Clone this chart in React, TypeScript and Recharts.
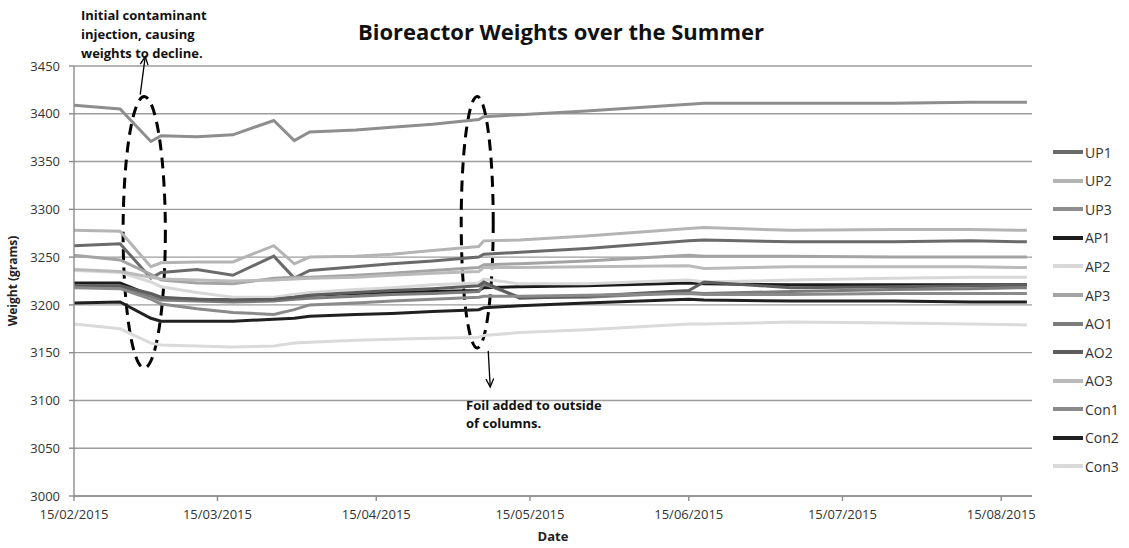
import React from 'react';
import { LineChart, Line, XAxis, YAxis, CartesianGrid, Legend, ReferenceArea } from 'recharts';

const DATES = [
  '2015-02-15', '2015-02-24', '2015-03-02', '2015-03-04', '2015-03-11', '2015-03-18',
  '2015-03-26', '2015-03-30', '2015-04-02', '2015-04-11', '2015-04-18', '2015-04-26',
  '2015-05-05', '2015-05-06', '2015-05-13', '2015-05-26', '2015-06-15', '2015-06-18',
  '2015-07-05', '2015-07-25', '2015-08-09', '2015-08-20',
];

const UP1 = [3262, 3264, 3228, 3234, 3237, 3231, 3251, 3228, 3236, 3240, 3243, 3246, 3250, 3253, 3255, 3259, 3267, 3268, 3266, 3266, 3267, 3266];
const UP2 = [3278, 3277, 3240, 3244, 3245, 3245, 3262, 3243, 3250, 3251, 3253, 3257, 3261, 3267, 3268, 3272, 3280, 3281, 3278, 3279, 3279, 3278];
const UP3 = [3409, 3405, 3371, 3377, 3376, 3378, 3393, 3372, 3381, 3383, 3386, 3389, 3394, 3397, 3399, 3403, 3410, 3411, 3411, 3411, 3412, 3412];
const AP1 = [3223, 3223, 3210, 3207, 3206, 3205, 3207, 3208, 3210, 3212, 3213, 3214, 3215, 3218, 3219, 3220, 3223, 3222, 3221, 3221, 3221, 3221];
const AP2 = [3236, 3234, 3224, 3219, 3213, 3208, 3208, 3211, 3213, 3216, 3218, 3221, 3223, 3227, 3222, 3222, 3226, 3224, 3226, 3228, 3229, 3229];
const AP3 = [3252, 3247, 3232, 3226, 3223, 3222, 3228, 3229, 3229, 3231, 3233, 3236, 3239, 3242, 3243, 3246, 3252, 3251, 3251, 3250, 3250, 3250];
const AO1 = [3219, 3218, 3209, 3205, 3204, 3203, 3204, 3206, 3207, 3209, 3211, 3212, 3214, 3222, 3208, 3208, 3213, 3212, 3214, 3216, 3217, 3218];
const AO2 = [3220, 3220, 3212, 3208, 3206, 3205, 3206, 3208, 3210, 3213, 3215, 3217, 3220, 3224, 3207, 3209, 3215, 3224, 3218, 3219, 3220, 3221];
const AO3 = [3237, 3235, 3229, 3227, 3226, 3225, 3226, 3227, 3228, 3229, 3231, 3233, 3235, 3239, 3239, 3240, 3241, 3238, 3240, 3240, 3240, 3239];
const CON1 = [3218, 3217, 3206, 3201, 3196, 3192, 3190, 3195, 3200, 3202, 3204, 3206, 3208, 3209, 3209, 3210, 3212, 3211, 3211, 3212, 3212, 3212];
const CON2 = [3202, 3203, 3186, 3183, 3183, 3183, 3185, 3186, 3188, 3190, 3191, 3193, 3195, 3197, 3199, 3202, 3206, 3205, 3204, 3204, 3203, 3203];
const CON3 = [3180, 3175, 3160, 3158, 3157, 3156, 3157, 3160, 3161, 3163, 3164, 3165, 3166, 3168, 3171, 3174, 3180, 3180, 3182, 3181, 3180, 3179];

const X_TICK_LABELS = ['15/02/2015', '15/03/2015', '15/04/2015', '15/05/2015', '15/06/2015', '15/07/2015', '15/08/2015'];
const X_DOMAIN_DATES = ['2015-02-15', '2015-08-21'];
const Y_TICKS = [3000, 3050, 3100, 3150, 3200, 3250, 3300, 3350, 3400, 3450];

// annotation regions (date range, weight range)
const ELLIPSE_1 = { x: ['2015-02-24T14:00:00Z', '2015-03-04T20:00:00Z'], y: [3134, 3418] };
const ELLIPSE_2 = { x: ['2015-05-01T14:00:00Z', '2015-05-07T20:00:00Z'], y: [3155, 3418] };

const SERIES = [
  { name: 'UP1', values: UP1, color: '#6a6a6a' },
  { name: 'UP2', values: UP2, color: '#b4b4b4' },
  { name: 'UP3', values: UP3, color: '#8e8e8e' },
  { name: 'AP1', values: AP1, color: '#1c1c1c' },
  { name: 'AP2', values: AP2, color: '#d8d8d8' },
  { name: 'AP3', values: AP3, color: '#a4a4a4' },
  { name: 'AO1', values: AO1, color: '#7c7c7c' },
  { name: 'AO2', values: AO2, color: '#5e5e5e' },
  { name: 'AO3', values: AO3, color: '#bababa' },
  { name: 'Con1', values: CON1, color: '#8a8a8a' },
  { name: 'Con2', values: CON2, color: '#202020' },
  { name: 'Con3', values: CON3, color: '#dadada' },
];

const toTs = (iso: string) => Date.parse(iso.length === 10 ? iso + 'T00:00:00Z' : iso);
const dmyToTs = (s: string) => {
  const [d, m, y] = s.split('/');
  return Date.UTC(Number(y), Number(m) - 1, Number(d));
};
const pad = (n: number) => (n < 10 ? '0' + n : '' + n);
const fmt = (ts: number) => {
  const d = new Date(ts);
  return `${pad(d.getUTCDate())}/${pad(d.getUTCMonth() + 1)}/${d.getUTCFullYear()}`;
};

const DATA = DATES.map((d, i) => {
  const row: Record<string, number> = { t: toTs(d) };
  SERIES.forEach((s) => {
    row[s.name] = s.values[i];
  });
  return row;
});

const X_TICKS = X_TICK_LABELS.map(dmyToTs);

const arrowHead = (x1: number, y1: number, x2: number, y2: number, len = 9) => {
  const a = Math.atan2(y2 - y1, x2 - x1);
  const a1 = a + Math.PI - 0.45;
  const a2 = a + Math.PI + 0.45;
  return `M${x2 + len * Math.cos(a1)},${y2 + len * Math.sin(a1)} L${x2},${y2} L${x2 + len * Math.cos(a2)},${y2 + len * Math.sin(a2)}`;
};

const Ellipse1 = (p: any) => {
  const { x, y, width, height } = p;
  const cx = x + width / 2;
  const sx = cx - 4, sy = y - 2, ex = cx + 1, ey = y - 40;
  return (
    <g>
      <ellipse cx={cx} cy={y + height / 2} rx={width / 2} ry={height / 2} fill="none" stroke="#000" strokeWidth={3} strokeDasharray="11 7" />
      <line x1={sx} y1={sy} x2={ex} y2={ey} stroke="#000" strokeWidth={1.3} />
      <path d={arrowHead(sx, sy, ex, ey)} fill="none" stroke="#000" strokeWidth={1.3} />
    </g>
  );
};

const Ellipse2 = (p: any) => {
  const { x, y, width, height } = p;
  const cx = x + width / 2;
  const sx = cx + 11, sy = y + height + 3, ex = cx + 13, ey = y + height + 39;
  return (
    <g>
      <ellipse cx={cx} cy={y + height / 2} rx={width / 2} ry={height / 2} fill="none" stroke="#000" strokeWidth={3} strokeDasharray="11 7" />
      <line x1={sx} y1={sy} x2={ex} y2={ey} stroke="#000" strokeWidth={1.3} />
      <path d={arrowHead(sx, sy, ex, ey)} fill="none" stroke="#000" strokeWidth={1.3} />
    </g>
  );
};

const renderLegend = () => (
  <div style={{ fontSize: 14, color: '#333', fontFamily: "'Open Sans', sans-serif" }}>
    {SERIES.map((s) => (
      <div key={s.name} style={{ height: 28.56, display: 'flex', alignItems: 'center' }}>
        <span style={{ display: 'inline-block', width: 30, height: 4, background: s.color, marginRight: 2 }} />
        <span>{s.name}</span>
      </div>
    ))}
  </div>
);

export default function App() {
  return (
    <div style={{ position: 'absolute', left: 0, top: 0, width: 1129, height: 548, background: '#fff', fontFamily: "'Open Sans', sans-serif" }}>
      <LineChart width={1129} height={548} data={DATA} margin={{ top: 66, right: 97, bottom: 19, left: 8 }}>
        <CartesianGrid horizontal vertical={false} stroke="#9c9c9c" strokeWidth={1.4} />
        <XAxis
          dataKey="t"
          type="number"
          scale="time"
          domain={X_DOMAIN_DATES.map(toTs)}
          ticks={X_TICKS}
          tickFormatter={fmt}
          height={33}
          tickSize={5}
          tickMargin={9}
          stroke="#8c8c8c"
          strokeWidth={1.4}
          tick={{ fontSize: 13, fill: '#333' }}
          allowDataOverflow
          label={{ value: 'Date', position: 'insideBottom', offset: -12, style: { fontSize: 13, fontWeight: 'bold', fill: '#222' } }}
        />
        <YAxis
          type="number"
          domain={[3000, 3450]}
          ticks={Y_TICKS}
          width={66}
          tickSize={5}
          tickMargin={9}
          stroke="#8c8c8c"
          strokeWidth={1.4}
          tick={{ fontSize: 13, fill: '#333' }}
          allowDataOverflow
          label={{ value: 'Weight (grams)', angle: -90, position: 'insideLeft', offset: 5, style: { textAnchor: 'middle', fontSize: 12, fontWeight: 'bold', fill: '#222' } }}
        />
        {SERIES.map((s) => (
          <Line
            key={s.name}
            type="linear"
            dataKey={s.name}
            name={s.name}
            stroke={s.color}
            strokeWidth={3}
            dot={false}
            activeDot={false}
            isAnimationActive={false}
          />
        ))}
        <ReferenceArea
          x1={toTs(ELLIPSE_1.x[0])}
          x2={toTs(ELLIPSE_1.x[1])}
          y1={ELLIPSE_1.y[0]}
          y2={ELLIPSE_1.y[1]}
          ifOverflow="visible"
          shape={Ellipse1}
        />
        <ReferenceArea
          x1={toTs(ELLIPSE_2.x[0])}
          x2={toTs(ELLIPSE_2.x[1])}
          y1={ELLIPSE_2.y[0]}
          y2={ELLIPSE_2.y[1]}
          ifOverflow="visible"
          shape={Ellipse2}
        />
        <Legend
          layout="vertical"
          align="center"
          verticalAlign="middle"
          content={renderLegend}
          wrapperStyle={{ left: 1053, top: 138, width: 76 }}
        />
      </LineChart>
      <div style={{ position: 'absolute', left: 261, width: 600, top: 16, textAlign: 'center', fontSize: 22, fontWeight: 'bold', lineHeight: '30px', color: '#111' }}>
        Bioreactor Weights over the Summer
      </div>
      <div style={{ position: 'absolute', left: 81, top: 6, fontSize: 13, fontWeight: 'bold', lineHeight: '19px', color: '#111' }}>
        Initial contaminant<br />injection, causing<br />weights to decline.
      </div>
      <div style={{ position: 'absolute', left: 466, top: 396, fontSize: 13, fontWeight: 'bold', lineHeight: '18px', color: '#111' }}>
        Foil added to outside<br />of columns.
      </div>
    </div>
  );
}
